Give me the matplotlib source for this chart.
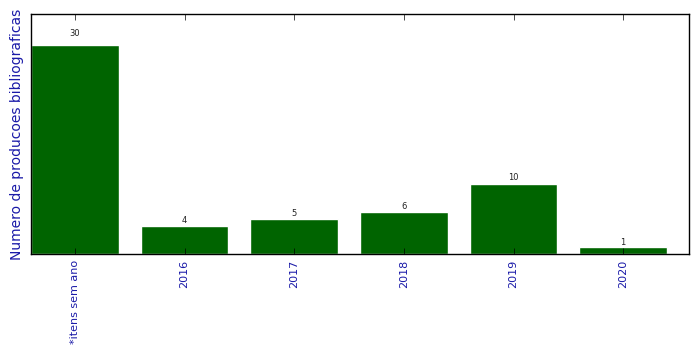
import numpy as np
import matplotlib
matplotlib.use('Agg')
import matplotlib.pyplot as plt

# ---------------------------------------------- Data
categories = ['*itens sem ano', '2016', '2017', '2018', '2019', '2020']
counts = [30, 4, 5, 6, 10, 1]

# ---------------------------------------------- Plot
plt.style.use('classic')
fig = plt.figure(figsize=(6.99, 3.54), dpi=100)
ax = fig.add_axes([0.0443, 0.2825, 0.9414, 0.678])

x = np.arange(len(categories))
bars = ax.bar(x, counts, width=0.8, align='center',
              color='#006400', edgecolor='white', linewidth=1)

for rect in bars:
    h = rect.get_height()
    ax.text(rect.get_x() + rect.get_width() / 2., 1.035 * h, '%d' % int(h),
            ha='center', va='bottom', fontsize=6, color='#222222')

ax.set_xlim(-0.4, 5.6)
ax.set_ylim(0, 34.5)
ax.set_xticks(x)
ax.set_xticklabels(categories, rotation=90, fontsize=8, color='#1a1aa8')
ax.set_yticks([])
ax.set_ylabel('Numero de producoes bibliograficas', fontsize=10, color='#1a1aa8')
ax.yaxis.set_label_coords(-0.01, 0.5)

fig.savefig('out.png', dpi=100)
